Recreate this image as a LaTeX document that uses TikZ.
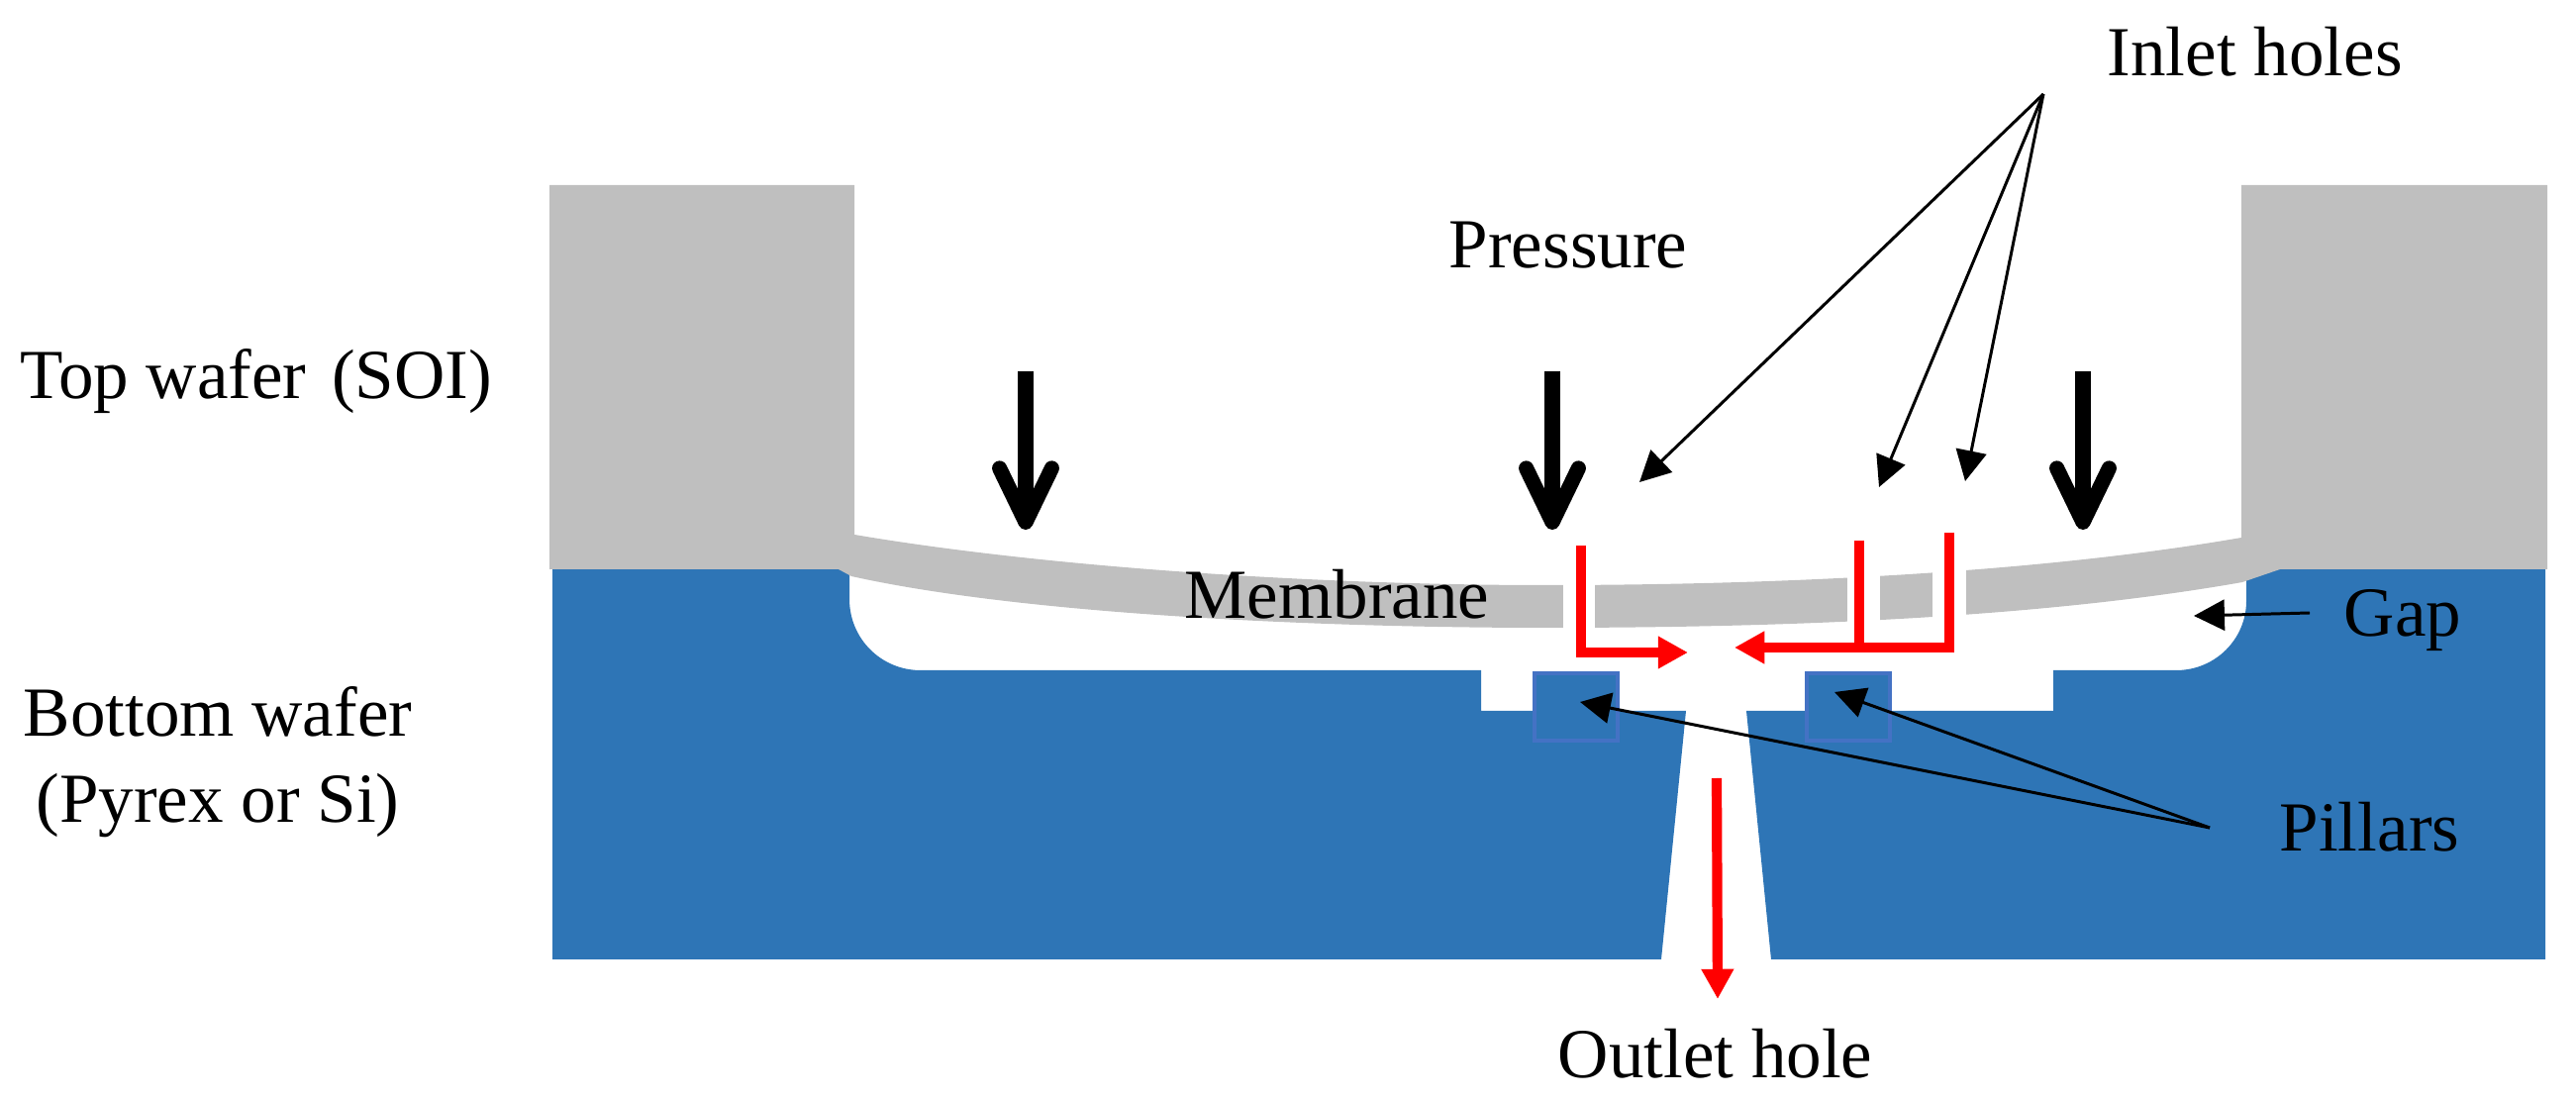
\documentclass[tikz,border=0pt]{standalone}
\usepackage{fontspec}
\setmainfont{Liberation Serif}
\usepackage{tikz}
\usetikzlibrary{arrows.meta}

\definecolor{waferblue}{HTML}{2E75B6}
\definecolor{wafergray}{HTML}{BFBFBF}
\definecolor{pillarblue}{HTML}{4472C4}

\begin{document}
\begin{tikzpicture}[
  x = 0.01cm,
  y = -0.01cm,
  label/.style = {
    anchor = base west,
    inner sep = 0pt,
    font = \fontsize{20.2}{25}\selectfont
  },
  pointer/.style = {
    -{Triangle[length=8.8pt, width=8.8pt]},
    black,
    line width = 0.85pt
  },
  pressure/.style = {
    -{Straight Barb[round, length=15.5pt, width=15pt]},
    black,
    line width = 4.3pt
  },
  flow/.style = {
    -{Triangle[length=8.6pt, width=8.8pt]},
    red,
    line width = 2.9pt
  },
  pillar/.style = {
    draw = pillarblue,
    fill = waferblue,
    line width = 1.1pt
  },
  ]
  \useasboundingbox (0, 0) rectangle (2602, 1113);

  % Bottom wafer, with the gap and the outlet hole left open.
  \fill[waferblue] (558, 575) -- (858, 575) -- (858, 605)
  .. controls (858, 645) and (890, 677) .. (930, 677)
  -- (1496, 677) -- (1496, 718) -- (1703, 718) -- (1678, 969) -- (558, 969) -- cycle
  (1764, 718) -- (2074, 718) -- (2074, 677) -- (2198, 677)
  .. controls (2238, 677) and (2269, 645) .. (2269, 607)
  -- (2269, 575) -- (2571, 575) -- (2571, 969) -- (1789, 969) -- cycle;

  % Top wafer and membrane.
  \fill[wafergray] (555, 187) -- (863, 187) -- (863, 540)
  .. controls (1070, 575) and (1350, 591) .. (1560, 591)
  .. controls (1780, 591) and (2050, 580) .. (2264, 543)
  -- (2264, 187) -- (2573, 187) -- (2573, 575) -- (2303, 575) -- (2265, 588)
  .. controls (2050, 626) and (1780, 634) .. (1560, 634)
  .. controls (1350, 634) and (1040, 622) .. (860, 582)
  -- (847, 575) -- (555, 575) -- cycle;

  % Inlet holes through the membrane.
  \foreach \left/\right in {1579/1611, 1866/1899, 1952/1986} {
    \fill[white] (\left, 555) rectangle (\right, 645);
  }

  % Pillars.
  \foreach \left in {1550, 1825} {
    \draw[pillar] (\left, 680) rectangle (\left + 84, 748);
  }

  % Flow through the holes.
  \coordinate (F-1) at (1597, 551);
  \coordinate (F-2) at (1878, 546);
  \coordinate (F-3) at (1969, 538);
  \coordinate (F-4) at (1705, 659);
  \coordinate (F-5) at (1752, 654);
  \coordinate (F-6) at (1734, 786);
  \coordinate (F-7) at (1735, 1009);
  \draw[flow] (F-1) |- (F-4);
  \draw[flow] (F-3) |- (F-5);
  \draw[flow, -] (F-2) -- (F-2 |- F-5);
  \draw[flow] (F-6) -- (F-7);

  % Pressure on the membrane.
  \foreach \name/\x in {1/1036, 2/1568, 3/2104} {
    \coordinate (P-\name) at (\x, 375);
    \coordinate (Q-\name) at (\x, 535);
    \draw[pressure] (P-\name) -- (Q-\name);
  }

  % Labels.
  \node[label] (top) at (20, 403) {Top wafer\hspace{.11em} (SOI)};
  \node[label, align=center, anchor=base] (bottom) at (220, 831) {Bottom wafer\\(Pyrex or Si)};
  \node[label] (pressure) at (1463, 271) {Pressure};
  \node[label] (membrane) at (1196, 625) {Membrane};
  \node[label] (inlet) at (2128, 77) {Inlet holes};
  \node[label] (gap) at (2367, 643) {Gap};
  \node[label] (pillars) at (2302, 860) {Pillars};
  \node[label] (outlet) at (1573, 1088) {Outlet hole};

  % Pointers from the labels.
  \coordinate (I-0) at (2064, 95);
  \foreach \name/\x/\y in {1/1656/487, 2/1898/492, 3/1985/486} {
    \coordinate (I-\name) at (\x, \y);
    \draw[pointer] (I-0) -- (I-\name);
  }
  \coordinate (G-0) at (2333, 619);
  \coordinate (G-1) at (2216, 622);
  \draw[pointer] (G-0) -- (G-1);
  \coordinate (L-0) at (2232, 836);
  \foreach \name/\x/\y in {1/1596/709, 2/1853/699} {
    \coordinate (L-\name) at (\x, \y);
    \draw[pointer] (L-0) -- (L-\name);
  }
\end{tikzpicture}
\end{document}
